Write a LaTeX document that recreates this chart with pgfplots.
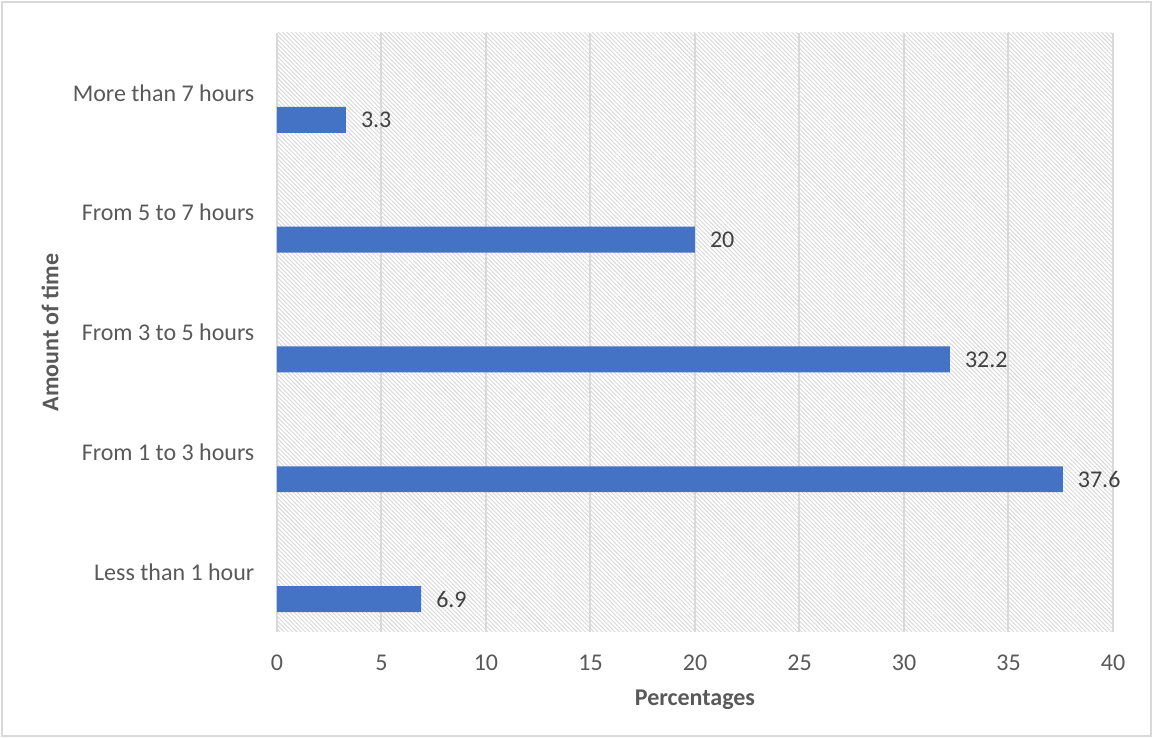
\documentclass[border=0pt]{standalone}
\usepackage{fontspec}
\setmainfont{Carlito}
\usepackage{pgfplots}
\pgfplotsset{compat=1.18}
\usetikzlibrary{patterns.meta}
\definecolor{barblue}{HTML}{4472C4}
\definecolor{gridgray}{HTML}{D9D9D9}
\definecolor{hatchgray}{HTML}{D6D6D6}
\definecolor{ticktext}{HTML}{595959}
\definecolor{labeltext}{HTML}{404040}
\begin{document}
\begin{tikzpicture}
\useasboundingbox (-138.5pt,-53pt) rectangle (438pt,316pt);
\draw[gridgray, line width=0.75pt] (-137.6pt,-52.1pt) rectangle (437.1pt,315.1pt);
\begin{axis}[
  at={(0pt,0pt)}, anchor=south west,
  scale only axis, width=418pt, height=299.5pt,
  xbar,
  xmin=0, xmax=40, ymin=-0.5, ymax=4.5,
  xtick={0,5,...,40}, ytick={0,...,4},
  yticklabels={Less than 1 hour, From 1 to 3 hours, From 3 to 5 hours, From 5 to 7 hours, More than 7 hours},
  bar width=0.217, bar shift=-0.225,
  axis background/.style={pattern={Lines[angle=-45, distance=1.5pt, line width=0.45pt]}, pattern color=hatchgray},
  xmajorgrids, major grid style={gridgray, line width=1pt},
  axis line style={draw=none}, tick style={draw=none},
  tick label style={font=\fontsize{12}{14}\selectfont, text=ticktext},
  /pgf/number format/assume math mode=true,
  xticklabel style={yshift=-8pt},
  yticklabel style={xshift=-3.5pt},
  xlabel={Percentages}, ylabel={Amount of time},
  label style={font=\fontsize{12}{14}\selectfont\bfseries, text=ticktext},
  xlabel style={at={(axis description cs:0.5,-0.1135)}, anchor=center},
  ylabel style={at={(axis description cs:-0.2715,0.5)}, anchor=center, rotate=0},
  nodes near coords,
  nodes near coords style={font=\fontsize{12}{14}\selectfont, text=labeltext, anchor=west, xshift=4pt},
  point meta=explicit symbolic,
]
\addplot[fill=barblue, draw=none] table[meta=lab] {
x y lab
6.9 0 6.9
37.6 1 37.6
32.2 2 32.2
20 3 20
3.3 4 3.3
};
\end{axis}
\end{tikzpicture}
\end{document}
